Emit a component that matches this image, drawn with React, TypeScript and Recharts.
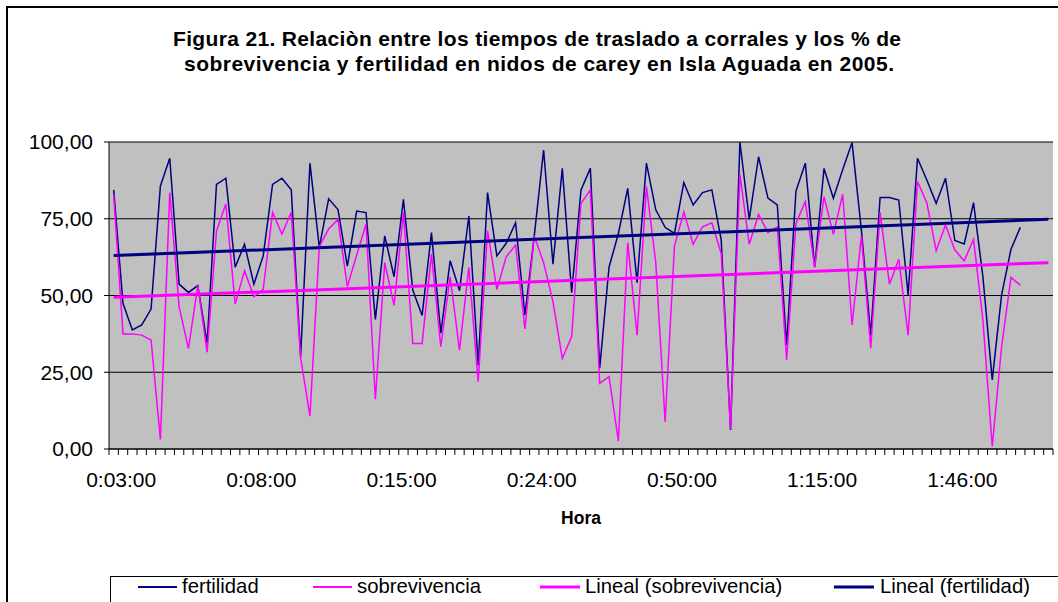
import React from 'react';
import { LineChart, Line, XAxis, YAxis, CartesianGrid } from 'recharts';

// ---- data ----
const fertilidad: (number | null)[] = [
  84.4, 47.4, 38.8, 40.4, 45.6, 85.7, 94.7, 53.7, 51.0, 53.2,
  34.4, 86.2, 88.2, 59.2, 66.7, 53.7, 62.9, 86.2, 88.2, 84.4,
  30.1, 93.1, 65.7, 81.5, 78.0, 59.6, 77.5, 77.0, 42.2, 69.4,
  56.1, 81.3, 51.8, 43.5, 70.5, 37.7, 61.3, 51.6, 75.9, 27.3,
  83.5, 62.9, 67.0, 73.7, 43.6, 69.4, 97.4, 60.2, 91.4, 50.9,
  84.4, 91.4, 26.3, 59.2, 70.2, 84.9, 54.2, 93.1, 77.9, 72.2,
  70.2, 86.8, 79.5, 83.5, 84.4, 68.1, 6.2, 100.0, 74.8, 95.2,
  81.7, 79.5, 33.9, 84.0, 93.1, 59.2, 91.4, 81.7, 91.0, 99.8,
  71.3, 37.1, 81.9, 81.9, 81.1, 50.2, 94.7, 87.6, 80.0, 88.2,
  67.9, 66.8, 80.2, 56.1, 22.5, 50.2, 65.0, 72.2, null, null,
  null,
];

const sobrevivencia: (number | null)[] = [
  82.7, 37.5, 37.5, 37.1, 35.5, 3.1, 83.5, 46.4, 32.7, 53.2,
  31.5, 71.0, 79.8, 47.2, 58.1, 49.6, 52.0, 77.1, 70.0, 77.1,
  29.8, 10.7, 65.9, 71.7, 74.8, 52.9, 63.2, 73.2, 16.2, 60.7,
  46.8, 77.0, 34.4, 34.4, 63.5, 33.3, 56.1, 32.2, 59.2, 21.9,
  71.1, 52.0, 62.6, 66.4, 39.1, 69.4, 60.7, 48.0, 29.5, 36.6,
  80.0, 84.4, 21.4, 23.6, 2.6, 67.2, 37.1, 85.5, 60.7, 8.9,
  66.1, 77.3, 66.7, 72.4, 73.7, 63.7, 6.5, 89.5, 66.7, 76.4,
  70.5, 72.4, 29.0, 73.5, 80.6, 59.2, 82.2, 69.9, 83.0, 40.4,
  69.4, 32.8, 77.0, 53.7, 61.8, 37.1, 87.1, 80.2, 64.6, 73.0,
  64.8, 61.3, 68.3, 42.0, 0.8, 33.3, 55.9, 53.4, null, null,
  null,
];

// linear trend lines: value at the first and at the last category
const trendFertilidad = [63.0, 74.8];
const trendSobrevivencia = [49.4, 60.7];

// category label shown every 15 categories
const tickIndices = [0, 15, 30, 45, 60, 75, 90];
const tickLabels = ['0:03:00', '0:08:00', '0:15:00', '0:24:00', '0:50:00', '1:15:00', '1:46:00'];

const yTicks = [0, 25, 50, 75, 100];

const seriesNames = ['fertilidad', 'sobrevivencia', 'Lineal (sobrevivencia)', 'Lineal (fertilidad)'];

const titleLines = [
  'Figura 21. Relaciòn entre los tiempos de traslado a corrales y los % de',
  'sobrevivencia y fertilidad en nidos de carey en Isla Aguada en 2005.',
];

const NAVY = '#000080';
const MAGENTA = '#FF00FF';
const FONT = '"Liberation Sans", Arial, Helvetica, sans-serif';

const N = fertilidad.length;
const rows = fertilidad.map((f, i) => ({
  idx: i,
  fertilidad: f,
  sobrevivencia: sobrevivencia[i],
  trendF: i === 0 ? trendFertilidad[0] : i === N - 1 ? trendFertilidad[1] : null,
  trendS: i === 0 ? trendSobrevivencia[0] : i === N - 1 ? trendSobrevivencia[1] : null,
}));

const labelMap = new Map<number, string>();
tickIndices.forEach((ix, k) => labelMap.set(ix, tickLabels[k]));

const CHART_W = 1100;
const CHART_H = 600;
const PLOT_W = 944;
const HALF_BAND = PLOT_W / N / 2;
const TICK_SIZE = 6;

function XTick(props: any) {
  const { x, y, payload } = props;
  const axisY = y - TICK_SIZE;
  const value = Number(payload?.value);
  const label = labelMap.get(value);
  return (
    <g>
      <line x1={x - HALF_BAND} x2={x - HALF_BAND} y1={axisY} y2={axisY + TICK_SIZE} stroke="#000" strokeWidth={1} />
      {value === N - 1 && (
        <line x1={x + HALF_BAND} x2={x + HALF_BAND} y1={axisY} y2={axisY + TICK_SIZE} stroke="#000" strokeWidth={1} />
      )}
      {label && (
        <text
          x={x + 7.5}
          y={axisY + 30.5}
          textAnchor="middle"
          dominantBaseline="central"
          fontSize={21}
          fontFamily={FONT}
          fill="#000"
        >
          {label}
        </text>
      )}
    </g>
  );
}

const fmt = (v: number) => v.toFixed(2).replace('.', ',');

export default function App() {
  const legendItems = [
    { name: seriesNames[0], color: NAVY, w: 2, x1: 138, x2: 177, tx: 182 },
    { name: seriesNames[1], color: MAGENTA, w: 2, x1: 313, x2: 352, tx: 357 },
    { name: seriesNames[2], color: MAGENTA, w: 3, x1: 540, x2: 580, tx: 585 },
    { name: seriesNames[3], color: NAVY, w: 3, x1: 834, x2: 874, tx: 880 },
  ];
  return (
    <div
      style={{
        position: 'fixed',
        left: 0,
        top: 0,
        width: 1058,
        height: 602,
        overflow: 'hidden',
        background: '#fff',
        fontFamily: FONT,
      }}
    >
      <div style={{ position: 'absolute', left: 8, top: 8 }}>
        <LineChart
          width={CHART_W}
          height={CHART_H}
          data={rows}
          margin={{ top: 134, left: 0, right: CHART_W - 101 - PLOT_W, bottom: 79 }}
        >
          <CartesianGrid vertical={false} stroke="#000" strokeWidth={1} fill="#C0C0C0" />
          <XAxis
            xAxisId="top"
            orientation="top"
            dataKey="idx"
            type="category"
            height={0}
            tick={false}
            tickLine={false}
            padding={{ left: HALF_BAND, right: HALF_BAND }}
            axisLine={{ stroke: '#808080', strokeWidth: 1 }}
          />
          <YAxis
            yAxisId="right"
            orientation="right"
            domain={[0, 100]}
            width={0}
            tick={false}
            tickLine={false}
            axisLine={{ stroke: '#808080', strokeWidth: 1 }}
          />
          <XAxis
            dataKey="idx"
            type="category"
            interval={0}
            height={80}
            tickSize={TICK_SIZE}
            tickMargin={0}
            tickLine={false}
            padding={{ left: HALF_BAND, right: HALF_BAND }}
            axisLine={{ stroke: '#000', strokeWidth: 1 }}
            tick={<XTick />}
            label={{
              value: 'Hora',
              position: 'insideBottom',
              offset: 5,
              style: { fontSize: 17.5, fontWeight: 'bold', fontFamily: FONT, fill: '#000' },
            }}
          />
          <YAxis
            domain={[0, 100]}
            ticks={yTicks}
            interval={0}
            width={101}
            tickSize={5}
            tickMargin={11}
            tickFormatter={fmt}
            tick={{ fontSize: 21, fill: '#000', fontFamily: FONT }}
            tickLine={{ stroke: '#000' }}
            axisLine={{ stroke: '#000', strokeWidth: 1 }}
          />
          <Line
            dataKey="fertilidad"
            name={seriesNames[0]}
            stroke={NAVY}
            strokeWidth={1.5}
            dot={false}
            activeDot={false}
            type="linear"
            isAnimationActive={false}
          />
          <Line
            dataKey="sobrevivencia"
            name={seriesNames[1]}
            stroke={MAGENTA}
            strokeWidth={1.5}
            dot={false}
            activeDot={false}
            type="linear"
            isAnimationActive={false}
          />
          <Line
            dataKey="trendS"
            name={seriesNames[2]}
            stroke={MAGENTA}
            strokeWidth={3}
            dot={false}
            activeDot={false}
            connectNulls
            type="linear"
            isAnimationActive={false}
          />
          <Line
            dataKey="trendF"
            name={seriesNames[3]}
            stroke={NAVY}
            strokeWidth={3}
            dot={false}
            activeDot={false}
            connectNulls
            type="linear"
            isAnimationActive={false}
          />
        </LineChart>
      </div>
      <svg
        width={1058}
        height={602}
        style={{ position: 'absolute', left: 0, top: 0, pointerEvents: 'none' }}
      >
        <rect x={7} y={7} width={1200} height={1200} fill="none" stroke="#000" strokeWidth={2} />
        <text
          x={537}
          y={45.5}
          textAnchor="middle"
          fontSize={21}
          fontWeight="bold"
          fontFamily={FONT}
          fill="#000"
          textLength={728}
          lengthAdjust="spacing"
        >
          {titleLines[0]}
        </text>
        <text
          x={539}
          y={70.5}
          textAnchor="middle"
          fontSize={21}
          fontWeight="bold"
          fontFamily={FONT}
          fill="#000"
          textLength={710}
          lengthAdjust="spacing"
        >
          {titleLines[1]}
        </text>
        <rect x={110.5} y={576.5} width={1000} height={100} fill="#fff" stroke="#000" strokeWidth={1} />
        {legendItems.map((it) => (
          <g key={it.name}>
            <line x1={it.x1} x2={it.x2} y1={587} y2={587} stroke={it.color} strokeWidth={it.w} />
            <text x={it.tx} y={592.5} fontSize={20.3} fontFamily={FONT} fill="#000">
              {it.name}
            </text>
          </g>
        ))}
      </svg>
    </div>
  );
}
